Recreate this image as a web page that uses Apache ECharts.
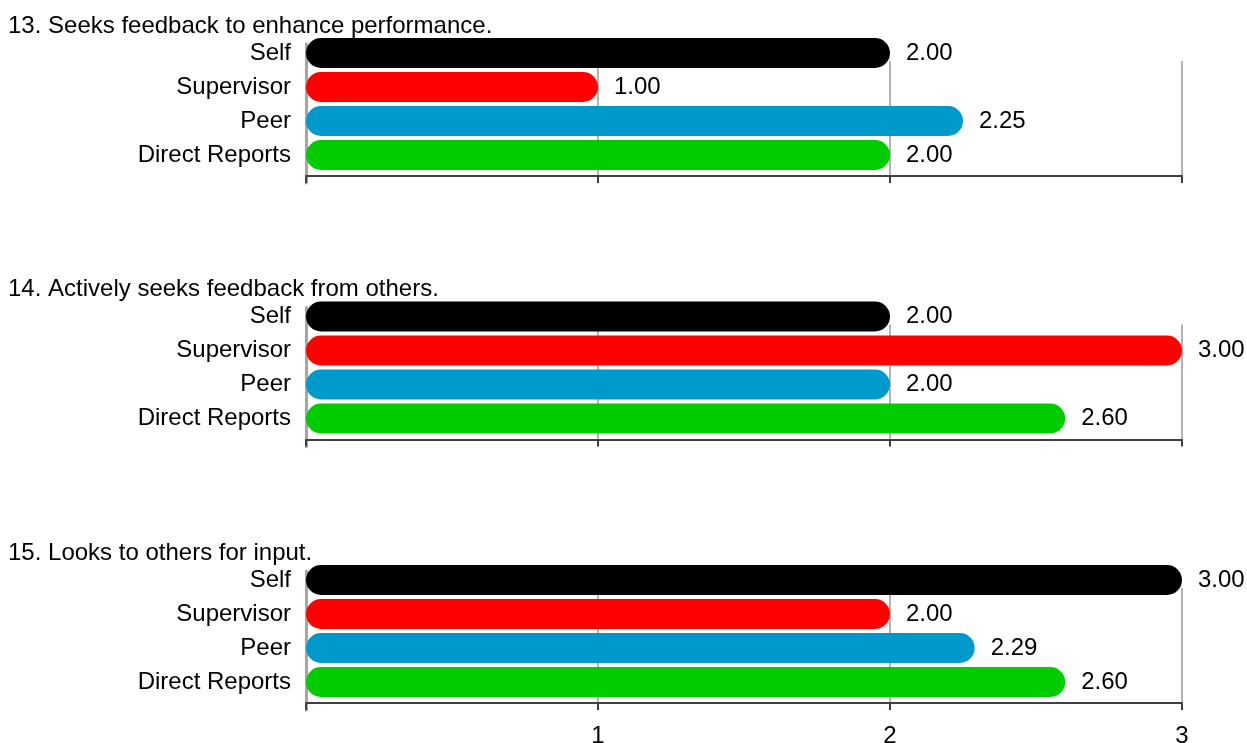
<!DOCTYPE html>
<html><head><meta charset="utf-8">
<script src="https://cdn.jsdelivr.net/npm/echarts@6/dist/echarts.min.js"></script>
<style>html,body{margin:0;padding:0;background:#fff}#c{width:1247px;height:743px}</style>
</head><body><div id="c"></div>
<script>
const categories = ['Self', 'Supervisor', 'Peer', 'Direct Reports'];
const titles = ['13. Seeks feedback to enhance performance.', '14. Actively seeks feedback from others.', '15. Looks to others for input.'];
const q13 = [2.00, 1.00, 2.25, 2.00];
const q14 = [2.00, 3.00, 2.00, 2.60];
const q15 = [3.00, 2.00, 2.29, 2.60];
const tickLabels = ['', '1', '2', '3'];
const colors = ['#000000', '#ff0000', '#0099cc', '#00cc00'];
const panels = [q13, q14, q15];

const FONT = '"Liberation Sans", Arial, sans-serif';
const FS = 24;
const L = 306, W = 876, BAND = 34;
const grids = [], xAxes = [], yAxes = [], series = [], title = [];
panels.forEach((vals, i) => {
  const c0 = 53 + i * 263.5;           // center of first bar
  const gi = grids.length;
  // bars grid
  grids.push({left: L, width: W, top: c0 - BAND / 2, height: BAND * 4, outerBoundsMode: 'none', containLabel: false});
  xAxes.push({gridIndex: gi, type: 'value', min: 0, max: 3, interval: 1, show: false});
  yAxes.push({gridIndex: gi, type: 'category', inverse: true, data: categories,
    axisLine: {show: false}, axisTick: {show: false}, splitLine: {show: false},
    axisLabel: {fontSize: FS, color: '#000', fontFamily: FONT, margin: 15}});
  series.push({type: 'bar', xAxisIndex: gi, yAxisIndex: gi, barWidth: 30, z: 3,
    data: vals.map((v, k) => ({value: v, itemStyle: {color: colors[k], borderRadius: 15}})),
    label: {show: true, position: 'right', distance: 16, fontSize: FS, color: '#000', fontFamily: FONT,
      formatter: p => p.value.toFixed(2)}});
  // gridlines + bottom axis grid
  const gb = grids.length;
  grids.push({left: L, width: W, top: c0 + 8, height: 115, outerBoundsMode: 'none', containLabel: false});
  xAxes.push({gridIndex: gb, type: 'value', min: 0, max: 3, interval: 1,
    axisLine: {show: true, lineStyle: {color: '#404040', width: 2}},
    axisTick: {show: true, length: 7, lineStyle: {color: '#404040', width: 2}},
    splitLine: {show: true, lineStyle: {color: '#b3b3b3', width: 2}},
    axisLabel: {show: i === 2, fontSize: FS, color: '#000', fontFamily: FONT, margin: 21,
      formatter: v => tickLabels[Math.round(v)]}});
  yAxes.push({gridIndex: gb, type: 'value', show: false, min: 0, max: 1});
  // left axis line grid
  const gc = grids.length;
  grids.push({left: L, width: W, top: c0 - 9, height: 139, outerBoundsMode: 'none', containLabel: false});
  xAxes.push({gridIndex: gc, type: 'value', min: 0, max: 3, show: false});
  yAxes.push({gridIndex: gc, type: 'value', min: 0, max: 1, axisLine: {show: true, lineStyle: {color: '#a6a6a6', width: 3}},
    axisTick: {show: false}, axisLabel: {show: false}, splitLine: {show: false}});
  title.push({text: titles[i], left: 8, top: c0 - 39, padding: 0,
    textStyle: {fontSize: FS, fontWeight: 'normal', color: '#000', fontFamily: FONT}});
});

const chart = echarts.init(document.getElementById('c'), null, {renderer: 'canvas'});
chart.setOption({animation: false, backgroundColor: '#fff', title, grid: grids, xAxis: xAxes, yAxis: yAxes, series});
</script></body></html>
